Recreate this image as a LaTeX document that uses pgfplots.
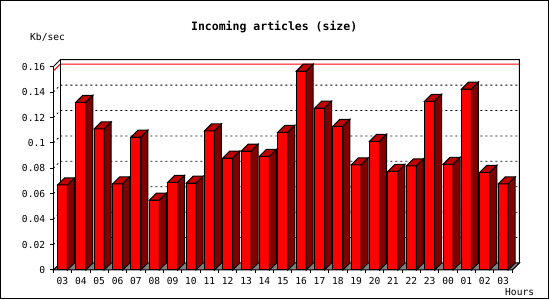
\documentclass[border=0pt]{standalone}
\usepackage{fontspec}
\setmonofont{DejaVu Sans Mono}
\usepackage{pgfplots}
\pgfplotsset{compat=1.18}
\usepackage{pgfplotstable}
\definecolor{frontred}{RGB}{255,0,0}
\definecolor{topred}{RGB}{192,0,0}
\definecolor{sidered}{RGB}{128,0,0}
\definecolor{floorgray}{RGB}{128,128,128}
\pgfdeclareplotmark{emptymark}{}
\pgfplotstableread{
i lab v
0 03 0.0669
1 04 0.1320
2 05 0.1110
3 06 0.0677
4 07 0.1045
5 08 0.0549
6 09 0.0690
7 10 0.0683
8 11 0.1094
9 12 0.0880
10 13 0.0935
11 14 0.0895
12 15 0.1084
13 16 0.1565
14 17 0.1273
15 18 0.1131
16 19 0.0827
17 20 0.1013
18 21 0.0777
19 22 0.0819
20 23 0.1328
21 00 0.0832
22 01 0.1423
23 02 0.0769
24 03 0.0677
}\articles
\newcommand\lblfont{\fontsize{9.6}{11}\selectfont\ttfamily}
\begin{document}
\begin{tikzpicture}[x=1pt,y=1pt]
\useasboundingbox (0,0) rectangle (550,300);
\fill[white] (0,0) rectangle (550,300);
\draw[line width=1pt] (0,299.5) -- (549.3,299.5);
\draw[line width=1pt] (0.5,300) -- (0.5,0.7);
\draw[line width=1.6pt] (548.5,300) -- (548.5,0.7);
\draw[line width=1.6pt] (0,1.5) -- (549.3,1.5);
\node[anchor=base, font=\fontsize{11.5}{13}\selectfont\ttfamily\bfseries] at (274.2,269.3) {Incoming articles (size)};
\node[anchor=base west, inner sep=0pt, font=\lblfont] at (30,259.5) {Kb/sec};
\node[anchor=base west, inner sep=0pt, font=\lblfont] at (505,4) {Hours};
\begin{axis}[
  at={(53.3pt,30pt)}, anchor=south west,
  scale only axis, width=459pt, height=203.3pt,
  xmin=-0.5, xmax=24.5, ymin=0, ymax=0.16,
  clip=false,
  axis x line*=bottom, axis y line*=left,
  axis line style={line width=1pt, black},
  tick align=outside,
  major tick length=3.5pt,
  tick style={black, line width=1pt},
  xtick={-0.5,0.5,...,24.5},
  xticklabels={03,04,05,06,07,08,09,10,11,12,13,14,15,16,17,18,19,20,21,22,23,00,01,02,03,{}},
  xticklabel style={font=\lblfont, anchor=north, inner sep=0pt, xshift=9.18pt, yshift=-4pt},
  ytick={0,0.02,0.04,0.06,0.08,0.1,0.12,0.14,0.16},
  yticklabels={0,0.02,0.04,0.06,0.08,0.1,0.12,0.14,0.16},
  yticklabel style={font=\lblfont, anchor=east, inner sep=0pt, xshift=-4.5pt},
  scaled y ticks=false,
]
\pgfplotsinvokeforeach{0.02,0.04,0.06,0.08,0.1,0.12,0.14}{
  \draw[black, line width=0.8pt, dash pattern=on 2pt off 3pt] (axis cs:-0.5,#1) -- ([shift={(7pt,7pt)}]axis cs:-0.5,#1) -- ([shift={(7pt,7pt)}]axis cs:24.5,#1);
}
\draw[red, line width=1pt] (axis cs:-0.5,0.1565) -- ([shift={(7pt,7pt)}]axis cs:-0.5,0.1565) -- ([shift={(7pt,7pt)}]axis cs:24.5,0.1565);
\draw[black, line width=1pt] (axis cs:-0.5,0.16) -- ([shift={(7pt,7pt)}]axis cs:-0.5,0.16) -- ([shift={(7pt,7pt)}]axis cs:24.5,0.16) -- ([shift={(7pt,7pt)}]axis cs:24.5,0);
\draw[black, line width=1pt] ([shift={(7pt,7pt)}]axis cs:-0.5,0.16) -- ([shift={(7pt,7pt)}]axis cs:-0.5,0);
\filldraw[fill=floorgray, draw=black, line width=1pt] (axis cs:-0.5,0) -- (axis cs:24.5,0) -- ([shift={(7pt,7pt)}]axis cs:24.5,0) -- ([shift={(7pt,7pt)}]axis cs:-0.5,0) -- cycle;
\addplot[ybar, bar width=10pt, bar shift=0pt, fill=frontred, draw=black, line width=1pt] table[x=i, y=v] {\articles};
\addplot[scatter, only marks, mark=emptymark,
  visualization depends on={rawy \as \val},
  scatter/@pre marker code/.code={%
    \filldraw[fill=topred, draw=black, line width=1pt] (-5pt,0pt) -- (2pt,7pt) -- (12pt,7pt) -- (5pt,0pt) -- cycle;
    \filldraw[fill=sidered, draw=black, line width=1pt] (5pt,0pt) -- (12pt,7pt) -- (12pt,{7pt-\val*1270.625pt}) -- (5pt,{-\val*1270.625pt}) -- cycle;
  },
  scatter/@post marker code/.code={}] table[x=i, y=v] {\articles};
\end{axis}
\end{tikzpicture}
\end{document}
